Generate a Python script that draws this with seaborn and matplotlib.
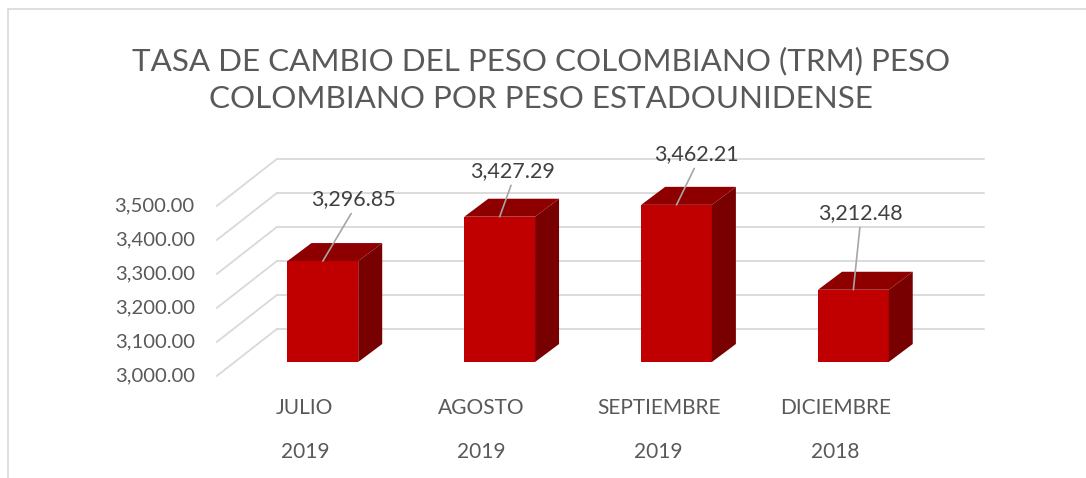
import numpy as np
import matplotlib.pyplot as plt
import seaborn as sns
from matplotlib.patches import Polygon
from matplotlib.lines import Line2D
from matplotlib.transforms import offset_copy

# === Data ===
months = ["JULIO", "AGOSTO", "SEPTIEMBRE", "DICIEMBRE"]
years = ["2019", "2019", "2019", "2018"]
trm = np.array([3296.85, 3427.29, 3462.21, 3212.48])
yticks = [3000, 3100, 3200, 3300, 3400, 3500]
base = 3000
title = "TASA DE CAMBIO DEL PESO COLOMBIANO (TRM) PESO\nCOLOMBIANO POR PESO ESTADOUNIDENSE"

# === Style ===
front_c, top_c, side_c = "#C00000", "#8E0000", "#780000"
grid_c = "#D9D9D9"
text_c = "#595959"
depth_px = (24, 18)          # 3d depth of the bars in pixels
wall_px = 33                 # back wall offset above the bar front plane
floor_px = 14                # front floor edge below the bar front plane
label_off = [(31, 62), (13, 46), (20, 51), (7, 77)]

sns.set_style("white")
plt.rcParams["font.family"] = ["Lato", "DejaVu Sans"]

fig = plt.figure(figsize=(10.86, 4.78), dpi=100)
ax = fig.add_axes([146 / 1086, 1 - 396 / 478, 840 / 1086, 255 / 478])

sns.barplot(x=months, y=trm - base, bottom=base, color=front_c, width=0.4,
            saturation=1, ax=ax, zorder=3, linewidth=0)
ax.set_xlim(-1.0, 3.75)
ax.set_ylim(2900, 3650)
ax.axis("off")

# pixel -> data conversion
sx = ax.transData.transform([(0, 0), (1, 100)])
px_x = sx[1, 0] - sx[0, 0]
px_y = (sx[1, 1] - sx[0, 1]) / 100.0
ddx, ddy = depth_px[0] / px_x, depth_px[1] / px_y

# === Grid (back wall + side wall) ===
x_wall0, x_wall1, x_diag0 = -0.26, 3.74, -0.60
for v in yticks:
    yb = v + wall_px / px_y
    ax.plot([x_wall0, x_wall1], [yb, yb], color=grid_c, lw=1.3, zorder=0, clip_on=False)
    ax.plot([x_diag0, x_wall0], [v - floor_px / px_y, yb], color=grid_c, lw=1.3,
            zorder=0, clip_on=False)
    ax.text(x_diag0, v, f"{v:,.2f}", ha="right", va="center", fontsize=14.6, color=text_c,
            transform=offset_copy(ax.transData, fig=fig, x=-22, y=-floor_px, units="dots"))

# === 3D faces ===
for p in ax.patches[:len(trm)]:
    x0, w = p.get_x(), p.get_width()
    y0, h = p.get_y(), p.get_height()
    x1, y1 = x0 + w, y0 + h
    top = Polygon([(x0, y1), (x1, y1), (x1 + ddx, y1 + ddy), (x0 + ddx, y1 + ddy)],
                  closed=True, facecolor=top_c, edgecolor="none", zorder=3)
    side = Polygon([(x1, y0), (x1 + ddx, y0 + ddy), (x1 + ddx, y1 + ddy), (x1, y1)],
                   closed=True, facecolor=side_c, edgecolor="none", zorder=3)
    ax.add_patch(top)
    ax.add_patch(side)

# === Data labels ===
for i, v in enumerate(trm):
    ax.annotate(f"{v:,.2f}", xy=(i, v), xytext=label_off[i], textcoords="offset pixels",
                ha="center", va="center", fontsize=15.5, color="#404040", zorder=5,
                arrowprops=dict(arrowstyle="-", color="#A6A6A6", lw=1.2,
                                relpos=(0.5, 0.0), shrinkA=1, shrinkB=0))

# === Category labels ===
for i, (m, yr) in enumerate(zip(months, years)):
    ax.text(i, base, m, ha="center", va="center", fontsize=15, color=text_c,
            transform=offset_copy(ax.transData, fig=fig, x=-18, y=-46, units="dots"))
    ax.text(i, base, yr, ha="center", va="center", fontsize=15, color=text_c,
            transform=offset_copy(ax.transData, fig=fig, x=-18, y=-90, units="dots"))

# === Title and chart border ===
fig.text(0.498, 1 - 80 / 478, title, ha="center", va="center", fontsize=22.6,
         color=text_c, linespacing=1.42)
fig.add_artist(Line2D([8 / 1086, 8 / 1086], [0, 1 - 9 / 478], color=grid_c, lw=1.2))
fig.add_artist(Line2D([8 / 1086, 1], [1 - 9 / 478, 1 - 9 / 478], color=grid_c, lw=1.2))

fig.savefig("out.png", dpi=100)
plt.close(fig)
